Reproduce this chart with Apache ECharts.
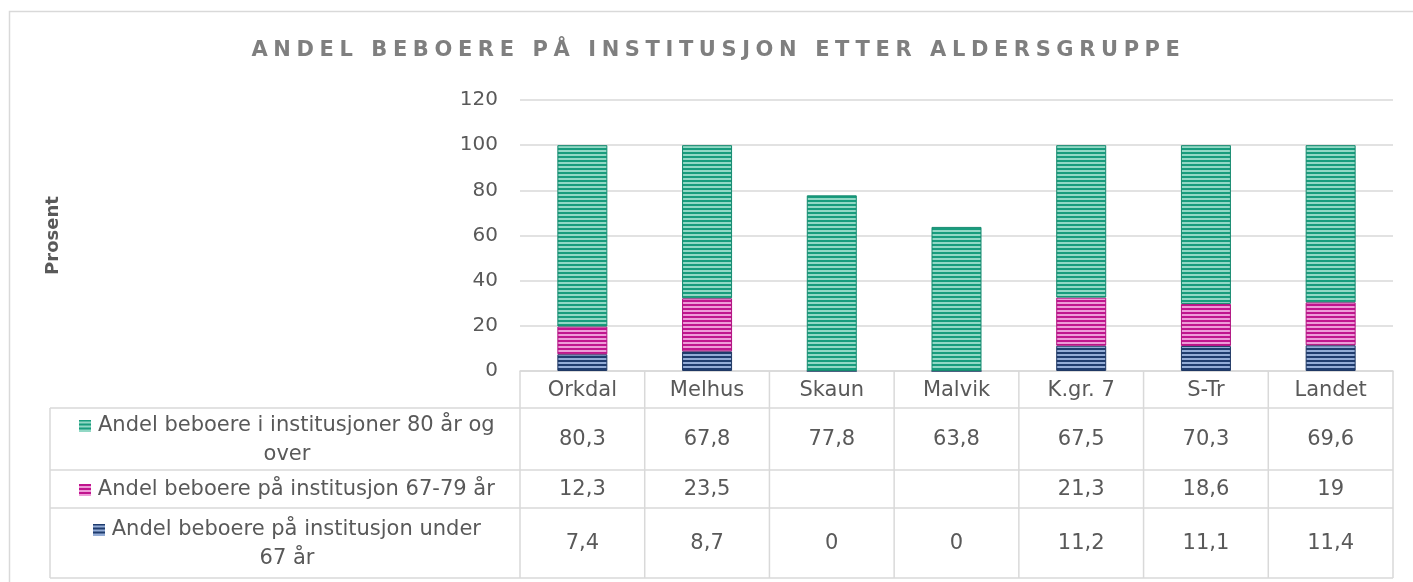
<!DOCTYPE html>
<html>
<head>
<meta charset="utf-8">
<script src="https://cdn.jsdelivr.net/npm/echarts@6/dist/echarts.min.js"></script>
<style>
  html, body { margin: 0; padding: 0; background: #fff; }
  #wrap { position: relative; width: 1413px; height: 582px; overflow: hidden; }
  #chart { position: absolute; left: 0; top: 0; width: 1413px; height: 582px; }
  #title {
    position: absolute; left: 0; top: 37px; width: 1413px; text-align: center;
    font-family: 'DejaVu Sans', sans-serif; font-weight: bold; font-size: 21px;
    letter-spacing: 5.6px; color: #7f7f7f; pointer-events: none; padding-left: 12px;
  }
</style>
</head>
<body>
<div id="wrap">
  <div id="chart"></div>
  <div id="title">ANDEL BEBOERE PÅ INSTITUSJON ETTER ALDERSGRUPPE</div>
</div>
<script>
const categories = ['Orkdal', 'Melhus', 'Skaun', 'Malvik', 'K.gr. 7', 'S-Tr', 'Landet']
const under67 = [7.4, 8.7, 0, 0, 11.2, 11.1, 11.4]
const age67to79 = [12.3, 23.5, null, null, 21.3, 18.6, 19]
const age80plus = [80.3, 67.8, 77.8, 63.8, 67.5, 70.3, 69.6]
const seriesNames = [
  'Andel beboere på institusjon under 67 år',
  'Andel beboere på institusjon 67-79 år',
  'Andel beboere i institusjoner 80 år og over',
]
// table rows top to bottom, with the label wrapped like the original
const rowLabels = [
  'Andel beboere i institusjoner 80 år og\nover',
  'Andel beboere på institusjon 67-79 år',
  'Andel beboere på institusjon under\n67 år',
]
const yMin = 0
const yMax = 120
const yStep = 20

const FONT = "'DejaVu Sans', sans-serif"
const TEXT = '#595959'
const LINE = '#d9d9d9'

const COLORS = [
  { dark: '#1f3c6e', light: '#93acd6', border: '#1f3864' },
  { dark: '#c0158e', light: '#ee9bd8', border: '#b0127f' },
  { dark: '#189c7d', light: '#92d8c5', border: '#158a6f' },
]

const stripes = (c, w, h) => {
  const cv = document.createElement('canvas')
  cv.width = w
  cv.height = h
  const ctx = cv.getContext('2d')
  ctx.fillStyle = c.light
  ctx.fillRect(0, 0, w, h)
  ctx.fillStyle = c.dark
  for (let y = 0; y < h; y += 4) ctx.fillRect(0, y, w, 2)
  return cv
}

const fmt = (v) => (v === null || v === undefined ? '' : String(v).replace('.', ','))

const chart = echarts.init(document.getElementById('chart'))

const dataSets = [under67, age67to79, age80plus]

const series = dataSets.map((d, i) => ({
  name: seriesNames[i],
  type: 'bar',
  stack: 'total',
  barWidth: 50,
  data: d,
  itemStyle: {
    color: { image: stripes(COLORS[i], 8, 8), repeat: 'repeat' },
    borderColor: COLORS[i].border,
    borderWidth: 1,
  },
  emphasis: { disabled: true },
}))

chart.setOption({
  animation: false,
  grid: { left: 520, right: 20, top: 100, bottom: 211 },
  xAxis: {
    type: 'category',
    data: categories,
    axisLine: { lineStyle: { color: LINE, width: 1.5 } },
    axisTick: { show: false },
    axisLabel: { color: TEXT, fontSize: 21, fontFamily: FONT, margin: 9 },
  },
  yAxis: {
    type: 'value',
    min: yMin,
    max: yMax,
    interval: yStep,
    name: 'Prosent',
    nameLocation: 'middle',
    nameGap: 458,
    nameTextStyle: { color: TEXT, fontSize: 18, fontWeight: 'bold', fontFamily: FONT },
    axisLine: { show: false },
    axisTick: { show: false },
    axisLabel: { color: TEXT, fontSize: 20, fontFamily: FONT, margin: 22 },
    splitLine: { lineStyle: { color: LINE, width: 1.5 } },
  },
  series,
})

// data table under the axis
const axisY = 371
const rowEdges = [408, 470, 508, 578]
const tableLeft = 50
const tableRight = 1393
const graphics = []
const lineStyle = { stroke: LINE, lineWidth: 1.5 }

graphics.push({
  type: 'rect',
  shape: { x: 9.5, y: 11.5, width: 1420, height: 600 },
  style: { fill: 'none', stroke: LINE, lineWidth: 1.5 },
  silent: true,
})

rowEdges.forEach((y) => {
  graphics.push({
    type: 'line',
    shape: { x1: tableLeft, y1: y, x2: tableRight, y2: y },
    style: lineStyle,
    silent: true,
  })
})
graphics.push({
  type: 'line',
  shape: { x1: tableLeft, y1: rowEdges[0], x2: tableLeft, y2: rowEdges[3] },
  style: lineStyle,
  silent: true,
})

// column edges between category bands
const first = chart.convertToPixel({ xAxisIndex: 0 }, categories[0])
const second = chart.convertToPixel({ xAxisIndex: 0 }, categories[1])
const band = second - first
for (let i = 0; i <= categories.length; i++) {
  const x = first - band / 2 + i * band
  graphics.push({
    type: 'line',
    shape: { x1: x, y1: axisY, x2: x, y2: rowEdges[3] },
    style: lineStyle,
    silent: true,
  })
}

// rows go 80+, 67-79, under 67
const rowSeries = [2, 1, 0]
rowSeries.forEach((si, r) => {
  const yc = (rowEdges[r] + rowEdges[r + 1]) / 2
  graphics.push({
    type: 'text',
    x: (tableLeft + 520) / 2 + 2,
    y: yc + 1,
    silent: true,
    style: {
      text: '{sw|} ' + rowLabels[r],
      align: 'center',
      verticalAlign: 'middle',
      fill: TEXT,
      font: '21px ' + FONT,
      lineHeight: 29,
      rich: {
        sw: {
          width: 12,
          height: 12,
          backgroundColor: { image: stripes(COLORS[si], 12, 12) },
        },
      },
    },
  })
  categories.forEach((c, ci) => {
    const x = chart.convertToPixel({ xAxisIndex: 0 }, c)
    graphics.push({
      type: 'text',
      x,
      y: yc + 1,
      silent: true,
      style: {
        text: fmt(dataSets[si][ci]),
        align: 'center',
        verticalAlign: 'middle',
        fill: TEXT,
        font: '21px ' + FONT,
      },
    })
  })
})

chart.setOption({ graphic: graphics })

window.addEventListener('resize', () => chart.resize())
</script>
</body>
</html>
